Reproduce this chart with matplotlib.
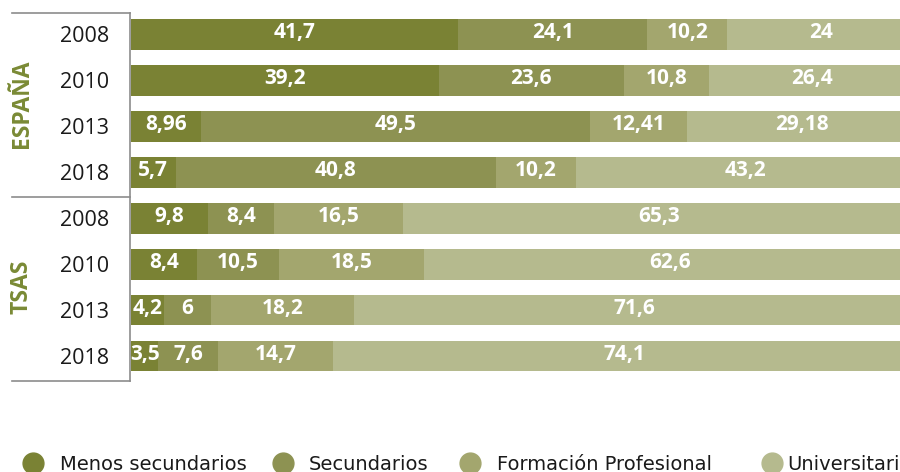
import matplotlib
matplotlib.use('Agg')
import matplotlib.pyplot as plt
import matplotlib.transforms as mtransforms
import numpy as np

# ------------------------------------------------------------------------------
# data

categories = ['Menos secundarios', 'Secundarios', 'Formación Profesional', 'Universitarios']
colors = ['#7a8234', '#8d9252', '#a3a66e', '#b5ba8e']

years = ['2008', '2010', '2013', '2018', '2008', '2010', '2013', '2018']
groups = ['ESPAÑA', 'TSAS']

menos_secundarios = [41.7, 39.2, 8.96, 5.7, 9.8, 8.4, 4.2, 3.5]
secundarios = [24.1, 23.6, 49.5, 40.8, 8.4, 10.5, 6, 7.6]
formacion_profesional = [10.2, 10.8, 12.41, 10.2, 16.5, 18.5, 18.2, 14.7]
universitarios = [24, 26.4, 29.18, 43.2, 65.3, 62.6, 71.6, 74.1]

# ------------------------------------------------------------------------------

def fmt(v):
    return ('%g' % v).replace('.', ',')

def main():

    W, H = 900, 472
    fig = plt.figure(figsize=(W / 100, H / 100), dpi=100)

    # main bar axes (pixel layout: x 131..900, y 11.5..379)
    ax = fig.add_axes([131 / W, 1 - 379 / H, 1 - 131 / W, (379 - 11.5) / H])

    series = [menos_secundarios, secundarios, formacion_profesional, universitarios]
    y = np.arange(len(years))
    left = np.zeros(len(years))

    for vals, col in zip(series, colors):
        vals = np.array(vals, dtype=float)
        ax.barh(y, vals, left=left, height=0.67, color=col, edgecolor='none')
        for yi, l, v in zip(y, left, vals):
            ax.text(l + v / 2, yi - 0.04, fmt(v), ha='center', va='center',
                    color='white', fontsize=15, fontweight='bold',
                    family='Open Sans')
        left += vals

    ax.set_xlim(0, 98)
    ax.set_ylim(len(years) - 0.5, -0.5)
    ax.set_yticks(y)
    ax.set_yticklabels(years, family='Open Sans', fontsize=15.5, color='#1a1a1a')
    ax.tick_params(axis='y', length=0, pad=16)
    ax.set_xticks([])
    for s in ax.spines.values():
        s.set_visible(False)

    # group labels
    trans = mtransforms.blended_transform_factory(fig.transFigure, ax.transData)
    for g, yc in zip(groups, [1.5, 5.5]):
        ax.text(22 / W, yc, g, transform=trans, rotation=90, ha='center',
                va='center', color='#7a8a35', fontsize=16.5, fontweight='bold',
                family='Open Sans')

    # overlay in pixel coords for table lines
    ov = fig.add_axes([0, 0, 1, 1], zorder=-1)
    ov.set_xlim(0, W)
    ov.set_ylim(H, 0)
    ov.axis('off')

    line_col = '#8c8c8c'
    ov.plot([130, 130], [13, 381], color=line_col, lw=1.2)
    for yy in [13, 196.5, 381]:
        ov.plot([12, 130], [yy, yy], color=line_col, lw=1.2)

    # legend
    leg = fig.add_axes([0, 0, 1, 1])
    leg.set_xlim(0, W)
    leg.set_ylim(H, 0)
    leg.axis('off')
    marker_x = [33, 283, 470, 772]
    text_x = [60, 309, 497, 787]
    for mx, tx, cat, col in zip(marker_x, text_x, categories, colors):
        leg.plot(mx, 463, 'o', ms=15, color=col, clip_on=False)
        leg.text(tx, 464, cat, ha='left', va='center', fontsize=14,
                 color='#1a1a1a', family='Liberation Sans Narrow', clip_on=False)

    fig.savefig('out.png', dpi=100)

if __name__ == '__main__':
    main()
